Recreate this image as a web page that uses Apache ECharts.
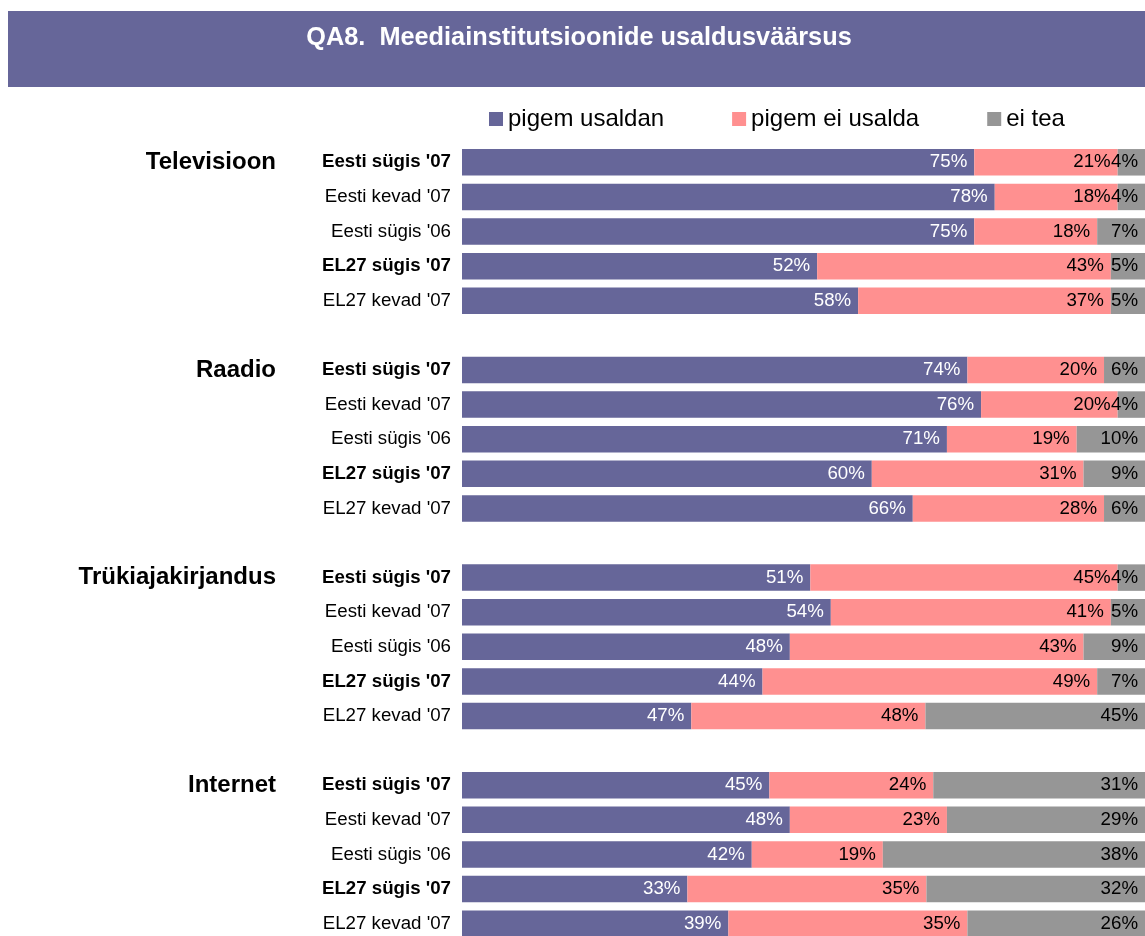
<!DOCTYPE html>
<html>
<head>
<meta charset="utf-8">
<script src="https://cdn.jsdelivr.net/npm/echarts@6/dist/echarts.min.js"></script>
<style>
  html, body { margin: 0; padding: 0; background: #fff; }
  #main { width: 1145px; height: 936px; }
</style>
</head>
<body>
<div id="main"></div>
<script>
// meedia liigid ja küsitluse lained
const groups = ['Televisioon', 'Raadio', 'Trükiajakirjandus', 'Internet'];
const waves = ["Eesti sügis '07", "Eesti kevad '07", "Eesti sügis '06", "EL27 sügis '07", "EL27 kevad '07"];
const seriesNames = ['pigem usaldan', 'pigem ei usalda', 'ei tea'];

// väärtused (%), järjekord: grupp x laine
const usaldan = [75, 78, 75, 52, 58, 74, 76, 71, 60, 66, 51, 54, 48, 44, 47, 45, 48, 42, 33, 39];
const eiUsalda = [21, 18, 18, 43, 37, 20, 20, 19, 31, 28, 45, 41, 43, 49, 48, 24, 23, 19, 35, 35];
const eiTea = [4, 4, 7, 5, 5, 6, 4, 10, 9, 6, 4, 5, 9, 7, 45, 31, 29, 38, 32, 26];

const colors = ['#666699', '#ff9090', '#969696'];
const font = '"Liberation Sans", Arial, sans-serif';

// ridade ehitamine (grupi vahele tühi rida)
const rowLabels = [];
const groupLabels = [];
const rowIdx = []; // rea -> andmete indeks, tühja rea puhul -1
groups.forEach((g, gi) => {
  waves.forEach((w, wi) => {
    rowLabels.push(w);
    groupLabels.push(wi === 0 ? g : '');
    rowIdx.push(gi * waves.length + wi);
  });
  if (gi < groups.length - 1) {
    rowLabels.push('');
    groupLabels.push('');
    rowIdx.push(-1);
  }
});

const raw = [usaldan, eiUsalda, eiTea];

// 100% virnastatud tulbad (nagu Excelis)
function normData(arr) {
  return rowIdx.map((i) => {
    if (i < 0) return '-';
    const sum = usaldan[i] + eiUsalda[i] + eiTea[i];
    return (arr[i] / sum) * 100;
  });
}

const chart = echarts.init(document.getElementById('main'));

const series = raw.map((arr, si) => {
  return {
    name: seriesNames[si],
    type: 'bar',
    stack: 'total',
    barWidth: 26.5,
    data: normData(arr),
    itemStyle: { color: colors[si] },
    label: {
      show: true,
      position: 'insideRight',
      distance: 7,
      fontSize: 18.7,
      fontFamily: font,
      color: si === 0 ? '#fff' : '#000',
      formatter: (p) => arr[rowIdx[p.dataIndex]] + '%',
    },
  };
});

const option = {
  animation: false,
  textStyle: { fontFamily: font },
  graphic: [
    {
      type: 'rect',
      shape: { x: 8, y: 11, width: 1137, height: 76 },
      style: { fill: '#666699' },
    },
    {
      type: 'text',
      x: 579,
      y: 38,
      style: {
        text: 'QA8.  Meediainstitutsioonide usaldusväärsus',
        fill: '#fff',
        fontSize: 25.3,
        fontWeight: 'bold',
        fontFamily: font,
        textAlign: 'center',
        textVerticalAlign: 'middle',
        align: 'center',
        verticalAlign: 'middle',
      },
    },
  ],
  legend: {
    left: 489,
    top: 107,
    padding: 0,
    icon: 'rect',
    itemWidth: 14,
    itemHeight: 14,
    itemGap: 68,
    textStyle: { fontSize: 24, color: '#000', fontFamily: font },
    data: seriesNames,
  },
  grid: {
    left: 462,
    top: 145,
    width: 683,
    height: 796,
    outerBoundsMode: 'none',
  },
  xAxis: {
    type: 'value',
    min: 0,
    max: 100,
    show: false,
  },
  yAxis: [
    {
      type: 'category',
      inverse: true,
      data: rowLabels,
      axisLine: { show: false },
      axisTick: { show: false },
      axisLabel: {
        interval: 0,
        margin: 11,
        fontSize: 18.7,
        color: '#000',
        fontFamily: font,
        formatter: (v) => (v.indexOf("sügis '07") >= 0 ? '{b|' + v + '}' : v),
        rich: {
          b: { fontWeight: 'bold', fontSize: 18.7, color: '#000', fontFamily: font },
        },
      },
    },
    {
      type: 'category',
      inverse: true,
      position: 'left',
      data: groupLabels,
      axisLine: { show: false },
      axisTick: { show: false },
      axisLabel: {
        interval: 0,
        margin: 186,
        fontSize: 24,
        fontWeight: 'bold',
        color: '#000',
        fontFamily: font,
      },
    },
  ],
  series: series,
};

chart.setOption(option);
</script>
</body>
</html>
